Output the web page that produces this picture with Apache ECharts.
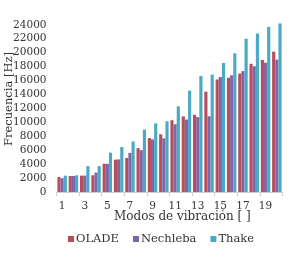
<!DOCTYPE html>
<html><head><meta charset="utf-8">
<script src="https://cdn.jsdelivr.net/npm/echarts@6/dist/echarts.min.js"></script>
<style>html,body{margin:0;padding:0;background:#fff}#c{width:290px;height:257px}</style>
</head><body><div id="c"></div>
<script>
const categories = ['1','2','3','4','5','6','7','8','9','10','11','12','13','14','15','16','17','18','19','20'];
const olade    = [2150, 2300, 2350, 2400, 4050, 4650, 4880, 6300, 7750, 8280, 10300, 10850, 11080, 14400, 16150, 16400, 17000, 18400, 18950, 20150];
const nechleba = [1980, 2300, 2350, 2780, 4050, 4680, 5620, 6000, 7550, 7700, 9720, 10400, 10750, 10870, 16500, 16750, 17350, 18050, 18550, 19000];
const thake    = [2350, 2400, 3720, 3720, 5650, 6450, 7250, 8950, 9850, 10150, 12300, 14550, 16650, 16850, 18500, 19900, 22000, 22750, 23700, 24200];
const seriesNames = ['OLADE', 'Nechleba', 'Thake'];
const yTitle = 'Frecuencia [Hz]';
const xTitle = 'Modos de vibración [ ]';

const colors = ['#BA4D5B', '#7D67A9', '#4BA9C2'];
const ff = 'DejaVu Serif';
const chart = echarts.init(document.getElementById('c'));
chart.setOption({
  animation: false,
  color: colors,
  textStyle: {fontFamily: ff},
  grid: {left: 56.5, right: 7.5, top: 22, bottom: 65},
  legend: {
    data: seriesNames, left: 63, top: 228, itemWidth: 6, itemHeight: 6, itemGap: 14,
    icon: 'rect', textStyle: {fontFamily: ff, fontSize: 11.5, color: '#333', padding: [0,0,0,-3]}
  },
  xAxis: {
    type: 'category', data: categories,
    axisLine: {lineStyle: {color: '#d0d0d0'}},
    axisTick: {show: true, length: 4, lineStyle: {color: '#d0d0d0'}},
    axisLabel: {interval: 1, color: '#333', fontFamily: ff, fontSize: 10.5, margin: 9}
  },
  yAxis: {
    type: 'value', min: 0, max: 24400, interval: 2000,
    splitLine: {show: false}, axisLine: {show: false}, axisTick: {show: false},
    axisLabel: {color: '#333', fontFamily: ff, fontSize: 10.5, margin: 10, showMaxLabel: false,
      formatter: v => String(v)}
  },
  graphic: [
    {type: 'text', left: 3, top: 52, rotation: Math.PI/2,
     style: {text: yTitle, font: '11.5px "DejaVu Serif"', fill: '#333'}},
    {type: 'text', left: 114, top: 211,
     style: {text: xTitle, font: '12px "DejaVu Serif"', fill: '#333'}}
  ],
  series: [
    {name: seriesNames[0], type: 'bar', data: olade, barGap: '0%', barCategoryGap: '16%'},
    {name: seriesNames[1], type: 'bar', data: nechleba, barGap: '0%', barCategoryGap: '16%'},
    {name: seriesNames[2], type: 'bar', data: thake, barGap: '0%', barCategoryGap: '16%'}
  ]
});
</script></body></html>
